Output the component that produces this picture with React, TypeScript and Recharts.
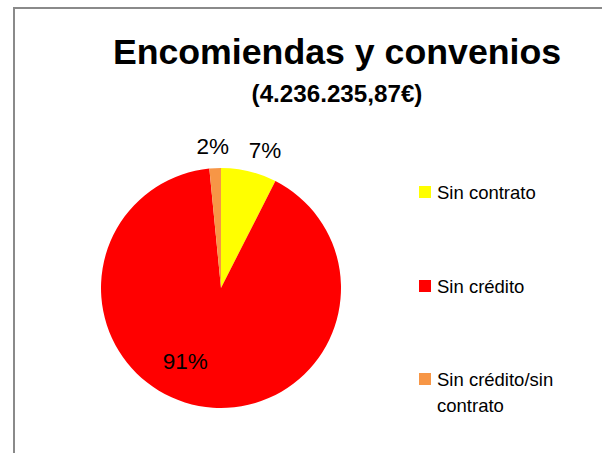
import React from "react";
import { Cell, Legend, Pie, PieChart } from "recharts";

const CATEGORIAS = ["Sin contrato", "Sin crédito", "Sin crédito/sin contrato"];
const PORCENTAJES = [7.49, 90.96, 1.55];
const COLORES = ["#FFFF00", "#FF0000", "#F79646"];
const TITULO = "Encomiendas y convenios";
const SUBTITULO = "(4.236.235,87€)";

const datos = CATEGORIAS.map((nombre, i) => ({ nombre, valor: PORCENTAJES[i] }));

const FUENTE = "'Liberation Sans', Arial, sans-serif";
const RAD = Math.PI / 180;

function EtiquetaPorcentaje(props: any) {
  const { cx, cy, midAngle, outerRadius, percent } = props;
  const texto = `${Math.round(percent * 100)}%`;
  if (percent > 0.5) {
    // etiqueta dentro del sector grande
    const r = outerRadius * 0.62;
    const x = cx + r * Math.cos(-midAngle * RAD) - 22;
    const y = cy + r * Math.sin(-midAngle * RAD);
    return (
      <text x={x} y={y + 8} textAnchor="middle" fontFamily={FUENTE} fontSize={22.5} fill="#000">
        {texto}
      </text>
    );
  }
  const r = outerRadius + 8;
  const x = cx + r * Math.cos(-midAngle * RAD);
  const y = cy + r * Math.sin(-midAngle * RAD);
  const anchor = x - cx > 10 ? "start" : x - cx < -10 ? "end" : "middle";
  return (
    <text x={x - 2} y={y - 6} textAnchor={anchor} fontFamily={FUENTE} fontSize={22.5} fill="#000">
      {texto}
    </text>
  );
}

function Leyenda() {
  return (
    <div style={{ position: "relative", width: 183, height: 260, fontFamily: FUENTE }}>
      {CATEGORIAS.map((nombre, i) => (
        <div key={nombre} style={{ position: "absolute", left: 0, top: i * 93.5, display: "flex" }}>
          <span
            style={{ width: 12, height: 12, marginTop: 6, flexShrink: 0, backgroundColor: COLORES[i] }}
          />
          <span
            style={{ marginLeft: 6, width: 150, fontSize: 18.5, lineHeight: "26px", color: "#000" }}
          >
            {nombre}
          </span>
        </div>
      ))}
    </div>
  );
}

export default function App() {
  return (
    <div style={{ position: "relative", width: 602, height: 453, overflow: "hidden", background: "#fff" }}>
      <style>{"body{margin:0}"}</style>
      <div
        style={{
          position: "absolute",
          left: 13,
          top: 7,
          width: 800,
          height: 700,
          borderTop: "2px solid #8a8a8a",
          borderLeft: "2px solid #8a8a8a",
        }}
      />
      <svg width={602} height={120} style={{ position: "absolute", left: 0, top: 0 }}>
        <text x={337} y={64.3} textAnchor="middle" fontFamily={FUENTE} fontWeight="bold" fontSize={35.7} fill="#000">
          {TITULO}
        </text>
        <text x={337} y={102.3} textAnchor="middle" fontFamily={FUENTE} fontWeight="bold" fontSize={24.2} fill="#000">
          {SUBTITULO}
        </text>
      </svg>
      <PieChart
        width={602}
        height={453}
        margin={{ top: 0, right: 0, bottom: 0, left: 0 }}
        style={{ position: "absolute", left: 0, top: 0 }}
      >
        <Pie
          data={datos}
          dataKey="valor"
          nameKey="nombre"
          cx={221}
          cy={288}
          outerRadius={120}
          startAngle={90}
          endAngle={-270}
          stroke="none"
          label={EtiquetaPorcentaje}
          labelLine={false}
          isAnimationActive={false}
        >
          {datos.map((d, i) => (
            <Cell key={d.nombre} fill={COLORES[i]} />
          ))}
        </Pie>
        <Legend
          layout="vertical"
          verticalAlign="top"
          align="right"
          content={() => <Leyenda />}
          wrapperStyle={{ left: 419, right: "auto", top: 180, width: 183 }}
        />
      </PieChart>
    </div>
  );
}
